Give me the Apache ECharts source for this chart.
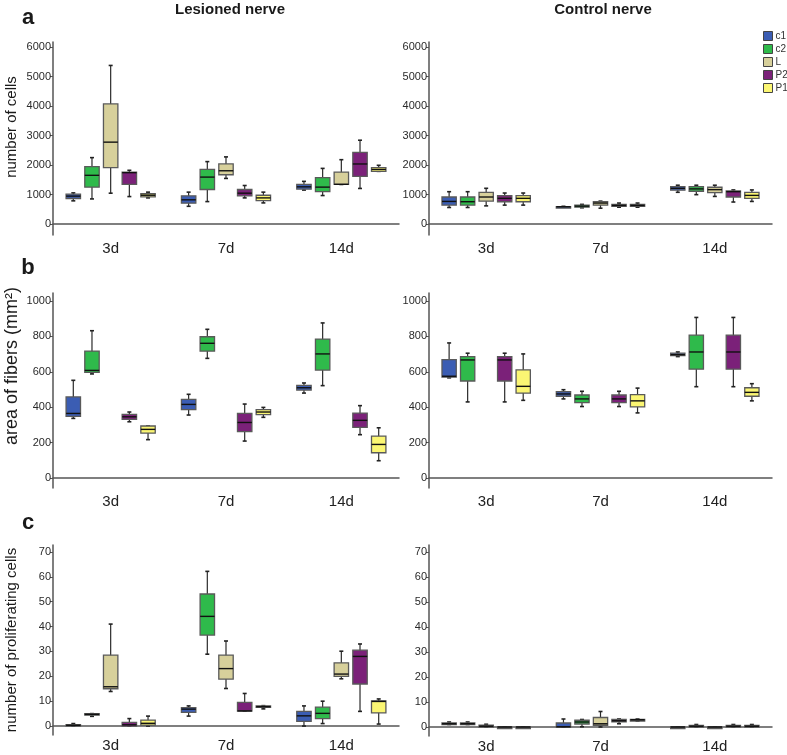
<!DOCTYPE html>
<html>
<head>
<meta charset="utf-8">
<script src="https://cdn.jsdelivr.net/npm/echarts@6/dist/echarts.min.js"></script>
<style>
  html, body { margin: 0; padding: 0; background: #fff; }
  #chart { width: 787px; height: 755px; }
</style>
</head>
<body>
<div id="chart"></div>
<script>
// days on the x axis, groups drawn side by side
const categories = ['3d', '7d', '14d'];
const seriesNames = ['c1', 'c2', 'L', 'P2', 'P1'];
const seriesColors = ['#3b5db3', '#2fba4b', '#d7d09b', '#7b2179', '#fbf673'];

// each box: [min, Q1, median, Q3, max], rows = c1, c2, L, P2, P1, cols = 3d, 7d, 14d
const cellsLesioned = [
  [[785, 865, 945, 1010, 1055], [600, 705, 820, 955, 1080], [1150, 1180, 1260, 1340, 1445]],
  [[850, 1250, 1650, 1945, 2250], [760, 1170, 1590, 1850, 2115], [965, 1100, 1250, 1570, 1885]],
  [[1045, 1910, 2775, 4070, 5375], [1545, 1670, 1805, 2035, 2275], [1340, 1340, 1345, 1760, 2180]],
  [[930, 1340, 1740, 1760, 1820], [885, 955, 1045, 1170, 1305], [1205, 1615, 2035, 2430, 2840]],
  [[885, 920, 975, 1025, 1080], [715, 795, 885, 975, 1080], [1785, 1785, 1850, 1910, 1990]]
];
const cellsControl = [
  [[560, 640, 765, 915, 1095], [575, 580, 585, 590, 600], [1075, 1145, 1210, 1270, 1315]],
  [[560, 640, 755, 915, 1095], [550, 570, 605, 640, 665], [995, 1110, 1190, 1270, 1315]],
  [[615, 775, 915, 1075, 1210], [535, 640, 710, 755, 775], [935, 1065, 1165, 1245, 1315]],
  [[640, 755, 870, 960, 1050], [570, 595, 630, 665, 710], [745, 915, 1095, 1120, 1155]],
  [[640, 755, 870, 960, 1050], [570, 595, 630, 665, 710], [765, 870, 970, 1075, 1155]]
];
const areaLesioned = [
  [[337, 348, 365, 458, 552], [356, 386, 416, 444, 473], [480, 497, 510, 524, 537]],
  [[588, 597, 608, 717, 832], [676, 717, 761, 798, 840], [522, 610, 701, 785, 876]],
  [],
  [[318, 331, 346, 360, 373], [209, 262, 314, 365, 418], [245, 286, 326, 367, 409]],
  [[217, 254, 275, 294, 294], [343, 358, 373, 386, 399], [98, 143, 190, 237, 284]]
];
const areaControl = [
  [[566, 570, 575, 669, 763], [447, 462, 475, 488, 499], [686, 692, 697, 705, 712]],
  [[430, 548, 667, 686, 705], [404, 426, 447, 469, 490], [516, 615, 712, 807, 907]],
  [],
  [[430, 548, 667, 686, 705], [404, 426, 447, 469, 490], [516, 615, 712, 807, 907]],
  [[439, 480, 518, 611, 701], [368, 402, 436, 471, 508], [436, 462, 484, 510, 533]]
];
const prolifLesioned = [
  [[0, 0, 0.3, 0.6, 1], [4, 5.5, 6.8, 7.4, 8.1], [0, 1.9, 4.1, 5.9, 8.1]],
  [[3.9, 4.5, 4.7, 5, 5], [28.9, 36.6, 44.1, 53.1, 62.2], [1, 3, 5.1, 7.6, 10]],
  [[13.9, 15, 15.8, 28.5, 41], [15.1, 18.9, 23.1, 28.5, 34.2], [19, 20, 20.9, 25.4, 30.1]],
  [[0, 0, 0.5, 1.5, 3], [6, 6, 6.1, 9.5, 13.1], [5.9, 16.9, 28, 30.5, 33]],
  [[0, 0.4, 1.1, 2.4, 4], [6.9, 7.6, 7.8, 8.1, 8.2], [0.8, 5.3, 9.9, 10.1, 10.9]]
];
const prolifControl = [
  [[1, 1, 1.3, 1.6, 2], [0, 0, 0.1, 1.6, 3.2], [0, 0, 0, 0, 0]],
  [[1, 1, 1.3, 1.6, 2], [0.1, 1.2, 2, 2.7, 3], [0, 0, 0.3, 0.6, 1]],
  [[0, 0, 0.3, 0.7, 1.1], [0, 0.7, 1.3, 3.8, 6.2], [0, 0, 0, 0, 0]],
  [[0, 0, 0, 0, 0], [1.3, 2.1, 2.5, 3, 3.2], [0, 0, 0.3, 0.6, 1]],
  [[0, 0, 0, 0, 0], [2.4, 2.7, 2.9, 3, 3.2], [0, 0, 0.3, 0.6, 1]]
];

const cellsTicks = [0, 1000, 2000, 3000, 4000, 5000, 6000];
const areaTicks = [0, 200, 400, 600, 800, 1000];
const prolifTicks = [0, 10, 20, 30, 40, 50, 60, 70];

const FONT = '"Liberation Sans", Arial, sans-serif';
const AXIS_COLOR = '#555';

// panel layout: data, ticks, axis range, grid box
const panels = [
  { data: cellsLesioned, ticks: cellsTicks, min: -373, max: 6170, grid: { left: 53, top: 42, width: 346, height: 193 } },
  { data: cellsControl, ticks: cellsTicks, min: -373, max: 6170, grid: { left: 429, top: 42, width: 343, height: 193 } },
  { data: areaLesioned, ticks: areaTicks, min: -56, max: 1045, grid: { left: 53, top: 293, width: 346, height: 195 } },
  { data: areaControl, ticks: areaTicks, min: -56, max: 1045, grid: { left: 429, top: 293, width: 343, height: 195 } },
  { data: prolifLesioned, ticks: prolifTicks, min: -3.6, max: 72.8, grid: { left: 53, top: 545, width: 346, height: 190 } },
  { data: prolifControl, ticks: prolifTicks, min: -3.6, max: 72.8, grid: { left: 429, top: 545, width: 343, height: 191 } }
];

function boxRenderer(slot) {
  return function (params, api) {
    var cat = api.value(0);
    var band = api.size([1, 0])[0];
    var cx = api.coord([cat, 0])[0] + (slot - 2) * band * 0.162;
    var w = band * 0.125;
    var y = [1, 2, 3, 4, 5].map(function (d) {
      return api.coord([cat, api.value(d)])[1];
    });
    var lineStyle = { stroke: '#2b2b2b', lineWidth: 1.2 };
    return {
      type: 'group',
      children: [
        { type: 'line', shape: { x1: cx, y1: y[4], x2: cx, y2: y[0] }, style: lineStyle },
        { type: 'line', shape: { x1: cx - 2, y1: y[4], x2: cx + 2, y2: y[4] }, style: { stroke: '#222', lineWidth: 1.6 } },
        { type: 'line', shape: { x1: cx - 2, y1: y[0], x2: cx + 2, y2: y[0] }, style: { stroke: '#222', lineWidth: 1.6 } },
        {
          type: 'rect',
          shape: { x: cx - w / 2, y: y[3], width: w, height: Math.max(y[1] - y[3], 1.5) },
          style: { fill: api.visual('color'), stroke: '#5a5a5a', lineWidth: 1.3 }
        },
        { type: 'line', shape: { x1: cx - w / 2, y1: y[2], x2: cx + w / 2, y2: y[2] }, style: { stroke: '#111', lineWidth: 1.4 } }
      ]
    };
  };
}

const grid = [], xAxis = [], yAxis = [], series = [];
panels.forEach(function (p, gi) {
  grid.push(p.grid);
  xAxis.push({
    type: 'category',
    gridIndex: gi,
    data: categories,
    boundaryGap: true,
    axisLine: { lineStyle: { color: AXIS_COLOR, width: 1.5 } },
    axisTick: { alignWithLabel: true, length: 3, lineStyle: { color: AXIS_COLOR } },
    axisLabel: { fontSize: 15, color: '#222', margin: gi < 4 ? 6 : 3, fontFamily: FONT },
    splitLine: { show: false }
  });
  yAxis.push({
    type: 'value',
    gridIndex: gi,
    min: p.min,
    max: p.max,
    axisLine: { show: true, lineStyle: { color: AXIS_COLOR, width: 1.5 } },
    axisTick: { show: true, customValues: p.ticks, length: 3, lineStyle: { color: AXIS_COLOR } },
    axisLabel: {
      customValues: p.ticks,
      fontSize: 11,
      color: '#2a2a2a',
      margin: 2,
      fontFamily: FONT,
      formatter: function (v) { return String(v); }
    },
    splitLine: { show: false }
  });
  seriesNames.forEach(function (name, si) {
    var rows = p.data[si].map(function (b, ci) {
      return [ci].concat(b);
    });
    series.push({
      type: 'custom',
      name: name,
      xAxisIndex: gi,
      yAxisIndex: gi,
      itemStyle: { color: seriesColors[si] },
      encode: { x: 0, y: [1, 2, 3, 4, 5] },
      renderItem: boxRenderer(si),
      data: rows
    });
  });
});

function label(text, x, y, size, bold, rotate) {
  return {
    type: 'text',
    x: x,
    y: y,
    rotation: rotate ? Math.PI / 2 : 0,
    style: {
      text: text,
      fill: '#1a1a1a',
      font: (bold ? 'bold ' : '') + size + 'px ' + FONT,
      textAlign: 'center',
      textVerticalAlign: 'middle'
    }
  };
}

const option = {
  backgroundColor: '#ffffff',
  animation: false,
  grid: grid,
  xAxis: xAxis,
  yAxis: yAxis,
  legend: {
    orient: 'vertical',
    left: 763,
    top: 31,
    padding: 0,
    icon: 'rect',
    itemWidth: 9,
    itemHeight: 9,
    itemGap: 3,
    itemStyle: { borderColor: '#444', borderWidth: 1 },
    textStyle: { fontSize: 10, color: '#333', fontFamily: FONT, padding: [0, 0, 0, -2] },
    data: seriesNames
  },
  graphic: [
    label('Lesioned nerve', 230, 10, 15, true),
    label('Control nerve', 603, 10, 15, true),
    label('a', 28, 18, 22, true),
    label('b', 28, 268, 22, true),
    label('c', 28, 523, 22, true),
    label('number of cells', 12, 127, 15, false, true),
    label('area of fibers (mm\u00b2)', 12, 366, 18, false, true),
    label('number of proliferating cells', 12, 640, 15, false, true)
  ],
  series: series
};

var myChart = echarts.init(document.getElementById('chart'));
myChart.setOption(option);
</script>
</body>
</html>
